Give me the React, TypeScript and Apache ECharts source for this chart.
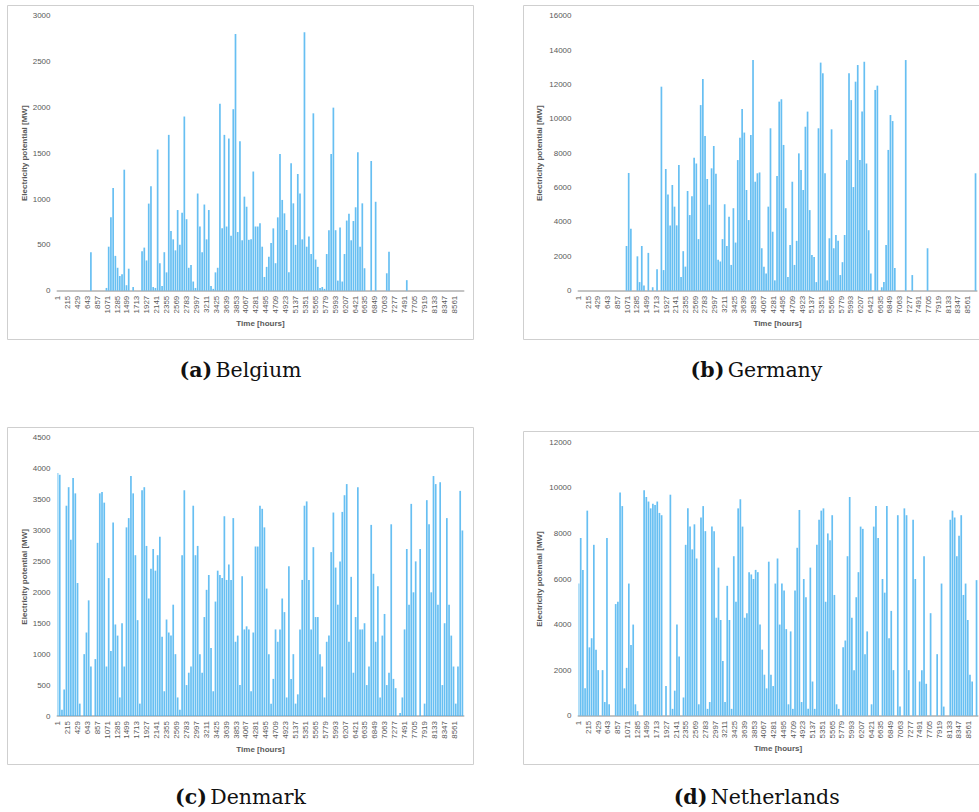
import React, { useEffect, useRef } from "react";
import * as echarts from "echarts";

// Hours of the year shown on the category axis (1 … 8760)
const HOURS_IN_YEAR = 8760;
const SAMPLE_STEP = 48; // one reading every 48 hours, starting at hour 1

// Readings (MW) at hours 1, 49, 97, …
const belgium = [
  0, 0, 0, 0, 0, 0, 0, 0, 0, 0, 0, 0, 0, 0, 0, 420, 0, 0, 0, 0,
  0, 0, 30, 480, 800, 1120, 380, 250, 160, 180, 1320, 60, 240, 0, 40, 0, 0, 0, 430, 470,
  330, 950, 1140, 40, 30, 1540, 300, 50, 420, 200, 1700, 650, 560, 440, 880, 500, 850, 1900, 780, 250,
  280, 100, 30, 1060, 700, 420, 940, 560, 880, 50, 20, 200, 250, 2040, 680, 1700, 700, 1660, 600, 1980,
  2800, 640, 1630, 550, 1026, 916, 555, 560, 1300, 700, 700, 735, 480, 150, 260, 370, 520, 680, 300, 800,
  1490, 990, 844, 662, 200, 1390, 953, 500, 1273, 1060, 560, 2819, 480, 590, 400, 1935, 340, 260, 30, 40,
  20, 400, 660, 1491, 1997, 660, 110, 690, 100, 400, 765, 840, 550, 760, 910, 1510, 480, 953, 245, 0,
  0, 1415, 0, 970, 0, 0, 0, 0, 190, 425, 0, 0, 0, 0, 0, 0, 0, 115, 0, 0,
  0, 0, 0, 0, 0, 0, 0, 0, 0, 0, 0, 0, 0, 0, 0, 0, 0, 0, 0, 0,
  0, 0, 0,
];

const germany = [
  0, 0, 0, 0, 0, 0, 0, 0, 0, 0, 0, 0, 0, 0, 0, 0, 0, 0, 0, 0,
  0, 0, 2600, 6850, 3600, 0, 0, 2000, 500, 2600, 300, 0, 2200, 0, 200, 0, 1250, 0, 11870, 1200,
  7080, 5600, 3800, 6150, 4890, 3800, 7310, 800, 2300, 1400, 5800, 4400, 5500, 7740, 7400, 3000, 10800, 12320, 9000, 6500,
  5000, 7120, 8420, 6800, 1800, 1700, 3000, 5030, 2600, 4300, 1500, 4800, 2800, 7600, 8900, 10570, 9200, 5860, 4110, 9060,
  13420, 6340, 6830, 6880, 2470, 1400, 1000, 4890, 9450, 3430, 600, 6680, 11000, 11140, 8480, 4800, 800, 2660, 6340, 1500,
  2900, 7990, 7020, 5860, 9540, 10420, 4690, 2080, 1960, 500, 9450, 13270, 12650, 6830, 600, 3050, 9390, 2470, 3240, 2900,
  910, 1660, 3240, 7600, 12650, 11090, 6030, 12160, 13130, 7600, 10420, 13320, 7400, 3520, 1000, 0, 11680, 11930, 0, 200,
  500, 2660, 8190, 10220, 9870, 1320, 0, 0, 0, 0, 13420, 0, 0, 910, 0, 0, 0, 0, 0, 0,
  2470, 0, 0, 0, 0, 0, 0, 0, 0, 0, 0, 0, 0, 0, 0, 0, 0, 0, 0, 0,
  0, 0, 6830,
];

const denmark = [
  3930, 3900, 100, 430, 3400, 3700, 2850, 3850, 3600, 2150, 200, 0, 1000, 1350, 1870, 800, 0, 920, 2800, 3600,
  3620, 3450, 800, 2230, 1050, 3130, 1480, 1300, 300, 1500, 800, 3050, 3200, 3880, 3600, 2600, 1550, 200, 3650, 3700,
  2750, 1900, 2380, 2700, 2350, 2600, 2900, 1280, 400, 1560, 1350, 1300, 1800, 1000, 300, 100, 2600, 3650, 500, 700,
  800, 3400, 2600, 2750, 1000, 700, 1600, 2040, 2280, 1100, 400, 1850, 2350, 2280, 2230, 3230, 2200, 2450, 2200, 3200,
  1200, 1300, 500, 2260, 1400, 1450, 1400, 400, 1350, 2740, 2740, 3400, 3350, 3050, 2060, 1000, 200, 600, 1400, 1200,
  1400, 1900, 1680, 300, 2420, 600, 1000, 200, 350, 1400, 2200, 3400, 3470, 2200, 1400, 2730, 1600, 1600, 1000, 800,
  300, 1200, 1300, 2650, 3290, 2400, 1800, 2500, 3300, 3570, 3750, 1200, 2250, 700, 1600, 3700, 1400, 1400, 1500, 500,
  800, 3090, 2300, 1200, 2100, 300, 1300, 1650, 500, 700, 3100, 600, 450, 0, 50, 300, 1400, 2700, 1800, 3430,
  2000, 2500, 0, 2700, 0, 200, 3490, 3100, 2000, 3880, 3750, 1800, 3780, 500, 1500, 3200, 1800, 1300, 800, 200,
  800, 3640, 3000,
];

const netherlands = [
  5800, 7800, 6400, 1200, 9000, 3000, 3400, 7500, 2900, 2000, 0, 2000, 600, 7800, 500, 0, 0, 4900, 5000, 9800,
  9200, 1200, 2100, 5800, 3100, 4000, 500, 200, 0, 0, 9900, 9600, 9400, 9100, 9300, 9250, 9400, 8900, 8800, 0,
  1300, 0, 9700, 300, 1100, 4000, 2600, 0, 800, 7500, 9100, 8300, 7300, 8400, 6900, 500, 8700, 9200, 8100, 300,
  600, 8300, 8100, 4300, 6500, 4200, 2400, 600, 5700, 4200, 300, 7000, 5000, 9100, 9500, 8300, 4300, 4500, 6300, 6200,
  6000, 6400, 6300, 4000, 2900, 1800, 1200, 6760, 1800, 1300, 5800, 6900, 4000, 5800, 5500, 3800, 500, 3700, 300, 5500,
  7370, 9030, 600, 6000, 5200, 300, 6500, 1500, 300, 7500, 8600, 9000, 9100, 5000, 8000, 7700, 8800, 5300, 500, 300,
  0, 3000, 3300, 7000, 9600, 4300, 2000, 5200, 6300, 8300, 8200, 2700, 3700, 0, 500, 8300, 9200, 7800, 0, 6000,
  5400, 9200, 3400, 4600, 2000, 0, 8800, 400, 0, 9100, 8800, 2000, 0, 8600, 6000, 0, 1500, 2000, 7000, 1400,
  0, 4500, 0, 0, 2700, 0, 5800, 400, 0, 0, 8600, 9000, 8700, 7000, 7900, 8800, 5300, 5800, 4200, 1800,
  1500, 0, 5950,
];

// Y-axis ranges per panel
const belgiumAxis = { max: 3000, interval: 500 };
const germanyAxis = { max: 16000, interval: 2000 };
const denmarkAxis = { max: 4500, interval: 500 };
const netherlandsAxis = { max: 12000, interval: 2000 };

const captions = [
  { tag: "(a)", name: "Belgium" },
  { tag: "(b)", name: "Germany" },
  { tag: "(c)", name: "Denmark" },
  { tag: "(d)", name: "Netherlands" },
];

const hourLabels = Array.from({ length: HOURS_IN_YEAR }, (_, k) => String(k + 1));

function expand(values: number[]) {
  const arr: (number | null)[] = new Array(HOURS_IN_YEAR).fill(null);
  values.forEach((v, i) => {
    const idx = i * SAMPLE_STEP;
    if (v > 0 && idx < HOURS_IN_YEAR) arr[idx] = v;
  });
  return arr;
}

const TEXT = "#595959";
const FONT = "Liberation Sans, Arial, sans-serif";

export default function App() {
  const ref = useRef<HTMLDivElement>(null);
  useEffect(() => {
    if (!ref.current) return;
    const chart = echarts.init(ref.current, undefined, { renderer: "svg" });

    const grids = [
      { left: 57.5, right: 979 - 463.5, top: 15.7, bottom: 812 - 290.7 },
      { left: 578.5, right: 979 - 976.6, top: 15.7, bottom: 812 - 290.7 },
      { left: 57.5, right: 979 - 463.5, top: 437.7, bottom: 812 - 716 },
      { left: 578.5, right: 979 - 977.6, top: 442.3, bottom: 812 - 715.7 },
    ];
    const axes = [belgiumAxis, germanyAxis, denmarkAxis, netherlandsAxis];
    const datasets = [belgium, germany, denmark, netherlands];
    const yNameGaps = [28, 35, 29, 35];

    const xAxis = grids.map((_, g) => ({
      type: "category" as const,
      gridIndex: g,
      data: hourLabels,
      boundaryGap: true,
      axisLine: { show: true, lineStyle: { color: "#c4c4c4", width: 2 } },
      axisTick: { show: false },
      axisLabel: {
        interval: 213,
        rotate: 90,
        fontSize: 8,
        color: TEXT,
        fontFamily: FONT,
        margin: 5,
      },
      name: "Time [hours]",
      nameLocation: "middle" as const,
      nameGap: 29,
      nameTextStyle: { fontSize: 8, fontWeight: "bold" as const, color: TEXT, fontFamily: FONT },
      splitLine: { show: false },
    }));

    const yAxis = grids.map((_, g) => ({
      type: "value" as const,
      gridIndex: g,
      min: 0,
      max: axes[g].max,
      interval: axes[g].interval,
      axisLine: { show: false },
      axisTick: { show: false },
      splitLine: { show: false },
      axisLabel: {
        fontSize: 8,
        color: TEXT,
        fontFamily: FONT,
        margin: 7,
        formatter: (v: number) => String(v),
      },
      name: "Electricity potential [MW]",
      nameLocation: "middle" as const,
      nameRotate: 90,
      nameGap: yNameGaps[g],
      nameTextStyle: { fontSize: 8, fontWeight: "bold" as const, color: TEXT, fontFamily: FONT },
    }));

    const series = datasets.map((d, g) => ({
      type: "bar" as const,
      xAxisIndex: g,
      yAxisIndex: g,
      data: expand(d),
      barWidth: 1.7,
      itemStyle: { color: "#4cb4f0", opacity: 0.85 },
      silent: true,
    }));

    const boxes = [
      { x: 7.5, y: 5.5, w: 466, h: 334 },
      { x: 523.5, y: 5.5, w: 470, h: 334 },
      { x: 7.5, y: 427.5, w: 466, h: 337 },
      { x: 523.5, y: 431.5, w: 470, h: 333 },
    ];
    const capPos = [
      { x: 240.5, y: 370 },
      { x: 756.5, y: 370 },
      { x: 240.5, y: 797 },
      { x: 756.7, y: 797 },
    ];

    const graphic: any[] = [];
    boxes.forEach((b) => {
      graphic.push({
        type: "rect",
        silent: true,
        z: -1,
        shape: { x: b.x, y: b.y, width: b.w, height: b.h },
        style: { fill: "#ffffff", stroke: "#cfcfcf", lineWidth: 1 },
      });
    });
    captions.forEach((c, k) => {
      graphic.push({
        type: "text",
        silent: true,
        x: capPos[k].x,
        y: capPos[k].y,
        style: {
          text: `{b|${c.tag}} {r|${c.name}}`,
          align: "center",
          verticalAlign: "middle",
          rich: {
            b: { fontFamily: "DejaVu Serif, serif", fontSize: 20.5, fontWeight: "bold", fill: "#111" },
            r: { fontFamily: "DejaVu Serif, serif", fontSize: 20.5, fill: "#111" },
          },
        },
      });
    });

    chart.setOption({
      animation: false,
      backgroundColor: "#ffffff",
      grid: grids,
      xAxis,
      yAxis,
      series,
      graphic,
    });
    return () => chart.dispose();
  }, []);

  return (
    <div
      ref={ref}
      style={{ position: "absolute", left: 0, top: 0, width: 979, height: 812 }}
    />
  );
}
